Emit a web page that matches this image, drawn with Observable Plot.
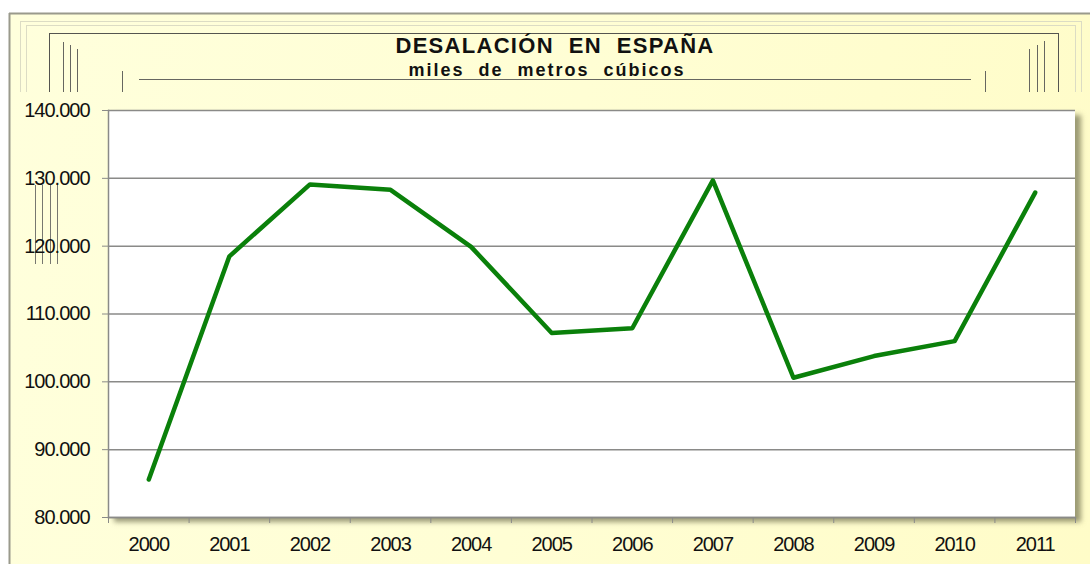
<!DOCTYPE html>
<html>
<head>
<meta charset="utf-8">
<script src="https://cdn.jsdelivr.net/npm/d3@7"></script>
<script src="https://cdn.jsdelivr.net/npm/@observablehq/plot@0.6"></script>
<style>
  html, body { margin: 0; padding: 0; background: #ffffff; }
  #chart { position: relative; width: 1090px; height: 564px; overflow: hidden; background: #ffffff; font-family: "Liberation Sans", Arial, sans-serif; }
  #panel { position: absolute; left: 9px; top: 13px; width: 1081px; height: 551px; background: linear-gradient(100deg, #ffffdc 0%, #fffed4 50%, #fffcc8 100%); }
  #deco { position: absolute; left: 0; top: 0; }
  #plotbox { position: absolute; left: 108px; top: 110px; width: 967px; height: 407px; background: #ffffff; box-shadow: 6px 5px 5px rgba(90, 90, 60, 0.6); }
  #plot { position: absolute; left: 0; top: 0; }
  #plot svg text { letter-spacing: -1px; }
  #title { position: absolute; left: 0; width: 1110px; top: 34px; text-align: center; font-weight: bold; font-size: 22px; letter-spacing: 1.3px; color: #111; white-space: pre; line-height: 24px; }
  #subtitle { position: absolute; left: 0; width: 1094px; top: 60px; text-align: center; font-weight: bold; font-size: 18px; letter-spacing: 2px; color: #111; white-space: pre; line-height: 20px; }
</style>
</head>
<body>
<div id="chart">
  <div id="panel"></div>
  <svg id="deco" width="1090" height="564">
    <g fill="none">
      <line x1="9" y1="13.5" x2="1090" y2="13.5" stroke="#9a9a8c" stroke-width="2"/>
      <line x1="9.5" y1="13" x2="9.5" y2="564" stroke="#9a9a8c" stroke-width="2"/>
      <line x1="20" y1="21.5" x2="1082" y2="21.5" stroke="#dcdcc4"/>
      <line x1="26" y1="25.5" x2="1076" y2="25.5" stroke="#dcdcc4"/>
      <line x1="20.5" y1="21" x2="20.5" y2="92" stroke="#dcdcc4"/>
      <line x1="26.5" y1="25" x2="26.5" y2="92" stroke="#dcdcc4"/>
      <line x1="1081.5" y1="21" x2="1081.5" y2="92" stroke="#dcdcc4"/>
      <line x1="1075.5" y1="25" x2="1075.5" y2="92" stroke="#dcdcc4"/>
      <line x1="49" y1="33.5" x2="1059" y2="33.5" stroke="#555550"/>
      <line x1="49.5" y1="33" x2="49.5" y2="92" stroke="#555550"/>
      <line x1="1058.5" y1="33" x2="1058.5" y2="92" stroke="#555550"/>
      <line x1="63.5" y1="42" x2="63.5" y2="92" stroke="#666660"/>
      <line x1="70.5" y1="45" x2="70.5" y2="92" stroke="#666660"/>
      <line x1="77.5" y1="49" x2="77.5" y2="92" stroke="#666660"/>
      <line x1="1029.5" y1="49" x2="1029.5" y2="92" stroke="#666660"/>
      <line x1="1037.5" y1="45" x2="1037.5" y2="92" stroke="#666660"/>
      <line x1="1044.5" y1="41" x2="1044.5" y2="92" stroke="#666660"/>
      <line x1="122.5" y1="71" x2="122.5" y2="92" stroke="#666660"/>
      <line x1="985.5" y1="71" x2="985.5" y2="92" stroke="#666660"/>
      <line x1="139" y1="79.5" x2="971" y2="79.5" stroke="#666660"/>
      <line x1="35.5" y1="185" x2="35.5" y2="264" stroke="#777770"/>
      <line x1="42.5" y1="185" x2="42.5" y2="264" stroke="#777770"/>
      <line x1="50.5" y1="185" x2="50.5" y2="264" stroke="#777770"/>
      <line x1="57.5" y1="185" x2="57.5" y2="264" stroke="#777770"/>
    </g>
  </svg>
  <div id="plotbox"></div>
  <div id="plot"></div>
  <div id="title">DESALACIÓN  EN  ESPAÑA</div>
  <div id="subtitle">miles  de  metros  cúbicos</div>
</div>
<script>
const years = [2000, 2001, 2002, 2003, 2004, 2005, 2006, 2007, 2008, 2009, 2010, 2011];
const desalacion = [85600, 118500, 129100, 128300, 119900, 107200, 107900, 129700, 100600, 103800, 106000, 127900];
const yTicks = [80000, 90000, 100000, 110000, 120000, 130000, 140000];

const data = years.map((y, i) => ({year: y, value: desalacion[i]}));
const bounds = years.concat([years[years.length - 1] + 1]).map(y => y - 0.5);
const esFmt = d3.formatLocale({decimal: ",", thousands: ".", grouping: [3], currency: ["", " €"]}).format(",d");

const chart = Plot.plot({
  width: 1090,
  height: 564,
  marginLeft: 108,
  marginRight: 15,
  marginTop: 110,
  marginBottom: 47,
  style: {background: "transparent", fontFamily: "'Liberation Sans', Arial, sans-serif", fontSize: "20px", overflow: "visible"},
  x: {type: "linear", domain: [bounds[0], bounds[bounds.length - 1]], label: null},
  y: {domain: [yTicks[0], yTicks[yTicks.length - 1]], label: null},
  marks: [
    Plot.gridY(yTicks, {stroke: "#8a8a88", strokeOpacity: 1, strokeWidth: 1.5}),
    Plot.frame({anchor: "left", stroke: "#8a8a88", strokeWidth: 1.5}),
    Plot.frame({anchor: "bottom", stroke: "#8a8a88", strokeWidth: 1.5}),
    Plot.axisY(yTicks, {tickSize: 6, tickPadding: 13, tickFormat: esFmt, stroke: "#8a8a88", fill: "#111", label: null}),
    Plot.axisX(bounds, {tickSize: 6, tickFormat: () => "", stroke: "#8a8a88", label: null}),
    Plot.axisX(years, {tickSize: 0, tickPadding: 19, tickFormat: d => String(d), fill: "#111", label: null}),
    Plot.line(data, {x: "year", y: "value", stroke: "#0a800a", strokeWidth: 4.5, strokeLinecap: "round", strokeLinejoin: "round"})
  ]
});
document.getElementById("plot").appendChild(chart);
</script>
</body>
</html>
